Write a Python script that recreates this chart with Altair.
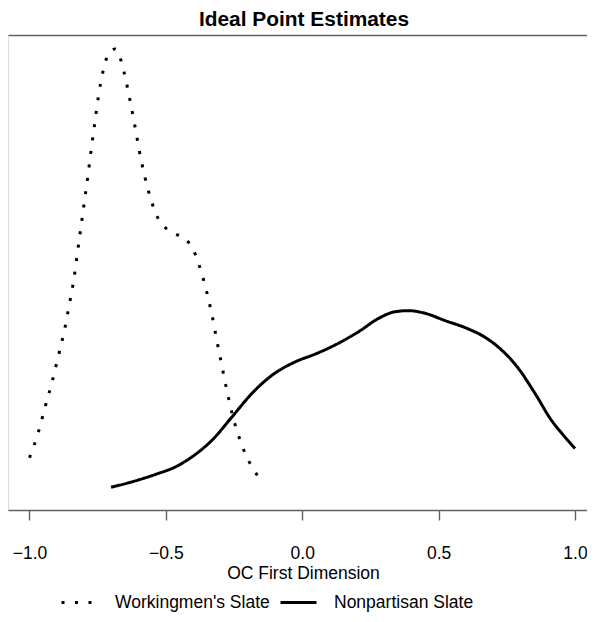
import altair as alt
import pandas as pd

series_names = ["Workingmen's Slate", "Nonpartisan Slate"]

work_x = [-1.0, -0.968, -0.943, -0.917, -0.894, -0.872, -0.854, -0.837, -0.824, -0.811,
          -0.798, -0.785, -0.773, -0.760, -0.747, -0.729, -0.715, -0.686, -0.664, -0.652,
          -0.632, -0.614, -0.597, -0.577, -0.551, -0.535, -0.507, -0.469, -0.426, -0.398,
          -0.381, -0.354, -0.332, -0.314, -0.295, -0.276, -0.254, -0.225, -0.208, -0.186, -0.160]
work_y = [0.299, 0.442, 0.587, 0.733, 0.880, 1.027, 1.173, 1.322, 1.473, 1.621,
          1.771, 1.920, 2.070, 2.219, 2.367, 2.516, 2.590, 2.634, 2.566, 2.493,
          2.345, 2.198, 2.050, 1.903, 1.756, 1.687, 1.621, 1.581, 1.545, 1.482,
          1.413, 1.269, 1.122, 0.975, 0.827, 0.680, 0.531, 0.387, 0.318, 0.251, 0.187]

non_x = [-0.701, -0.622, -0.537, -0.464, -0.403, -0.330, -0.257, -0.184, -0.110, -0.025,
         0.048, 0.133, 0.207, 0.280, 0.341, 0.389, 0.450, 0.524, 0.597, 0.670,
         0.731, 0.792, 0.853, 0.913, 0.962, 1.0]
non_y = [0.130, 0.162, 0.204, 0.247, 0.305, 0.400, 0.533, 0.667, 0.771, 0.847,
         0.891, 0.953, 1.019, 1.095, 1.133, 1.139, 1.124, 1.082, 1.042, 0.987,
         0.914, 0.810, 0.667, 0.514, 0.419, 0.352]

x_ticks = [-1.0, -0.5, 0.0, 0.5, 1.0]

df = pd.concat([
    pd.DataFrame({"x": work_x, "y": work_y, "slate": series_names[0]}),
    pd.DataFrame({"x": non_x, "y": non_y, "slate": series_names[1]}),
], ignore_index=True)

FONT = "Liberation Sans"
GRAY = "#606060"
xscale = alt.Scale(domain=[-1.0788, 1.044], nice=False, zero=False)
yscale = alt.Scale(domain=[0, 2.714], nice=False, zero=False)

lines = alt.Chart(df).mark_line(
    strokeWidth=3, interpolate="monotone", color="black"
).encode(
    x=alt.X("x:Q", scale=xscale,
            axis=alt.Axis(values=x_ticks, format=".1f", title="OC First Dimension",
                          domain=True, domainColor=GRAY, domainWidth=1.6,
                          grid=False, tickSize=10, tickColor=GRAY,
                          tickWidth=1.4, labelFontSize=17.5, labelFont=FONT,
                          labelColor="black", labelBaseline="alphabetic",
                          labelPadding=38, labelFlush=False,
                          titleFontSize=17.5, titleFont=FONT, titleFontWeight="normal",
                          titleColor="black", titleBaseline="alphabetic",
                          titleY=68, titleX=295)),
    y=alt.Y("y:Q", scale=yscale, axis=None),
    strokeDash=alt.StrokeDash("slate:N",
        scale=alt.Scale(domain=series_names, range=[[3, 10.5], [1, 0]]),
        legend=alt.Legend(title=None, orient="none", direction="horizontal",
                          legendX=52, legendY=548, symbolType="stroke",
                          symbolSize=1296, symbolStrokeWidth=3,
                          symbolStrokeColor="black", labelFontSize=17.5,
                          labelFont=FONT, labelColor="black", labelOffset=16,
                          columnPadding=4, padding=0)),
)

frame = alt.Chart(df).mark_point(opacity=0).encode(
    x=alt.X("x:Q", scale=xscale,
            axis=alt.Axis(orient="top", domain=True, domainColor=GRAY, domainWidth=1.6,
                          labels=False, ticks=False, grid=False, title=None)),
    y=alt.Y("y:Q", scale=yscale,
            axis=alt.Axis(orient="left", domain=True, domainColor=GRAY, domainWidth=1.6,
                          labels=False, ticks=False, grid=False, title=None, offset=-1)),
)

chart = alt.layer(lines, frame).resolve_axis(x="independent").properties(
    width=579, height=475,
    title=alt.TitleParams("Ideal Point Estimates", font=FONT, fontSize=20.9,
                          fontWeight="bold", color="black", anchor="middle",
                          baseline="top", offset=5, dx=6.5),
    autosize=alt.AutoSizeParams(type="none"),
    padding={"left": 0, "top": 27, "right": 0, "bottom": 104},
).configure_view(
    stroke=None
).configure(background="white")

chart.save("out.html", embed_options={"renderer": "svg", "actions": False})
